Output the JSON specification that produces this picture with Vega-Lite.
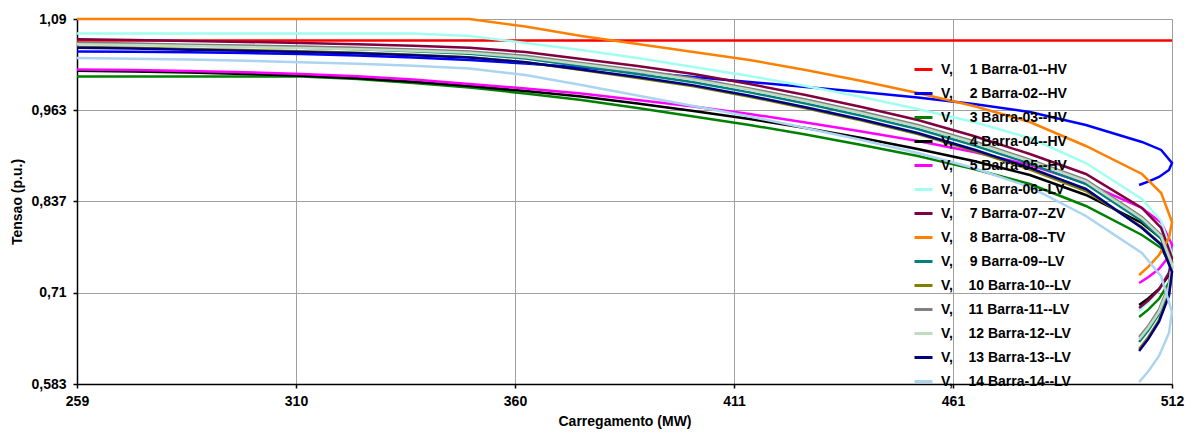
{
  "$schema": "https://vega.github.io/schema/vega-lite/v6.json",
  "width": 1095,
  "height": 365,
  "autosize": {"type": "none"},
  "padding": {"left": 77, "top": 19, "right": 24, "bottom": 51},
  "background": "white",
  "datasets": {
    "names": [
      {"key": "b1", "name": "V,\u00a0\u00a0\u00a0\u00a0\u200a1 Barra-01--HV"},
      {"key": "b2", "name": "V,\u00a0\u00a0\u00a0\u00a0\u200a2 Barra-02--HV"},
      {"key": "b3", "name": "V,\u00a0\u00a0\u00a0\u00a0\u200a3 Barra-03--HV"},
      {"key": "b4", "name": "V,\u00a0\u00a0\u00a0\u00a0\u200a4 Barra-04--HV"},
      {"key": "b5", "name": "V,\u00a0\u00a0\u00a0\u00a0\u200a5 Barra-05--HV"},
      {"key": "b6", "name": "V,\u00a0\u00a0\u00a0\u00a0\u200a6 Barra-06--LV"},
      {"key": "b7", "name": "V,\u00a0\u00a0\u00a0\u00a0\u200a7 Barra-07--ZV"},
      {"key": "b8", "name": "V,\u00a0\u00a0\u00a0\u00a0\u200a8 Barra-08--TV"},
      {"key": "b9", "name": "V,\u00a0\u00a0\u00a0\u00a0\u200a9 Barra-09--LV"},
      {"key": "b10", "name": "V,\u00a0\u00a0\u00a0\u00a010 Barra-10--LV"},
      {"key": "b11", "name": "V,\u00a0\u00a0\u00a0\u00a011 Barra-11--LV"},
      {"key": "b12", "name": "V,\u00a0\u00a0\u00a0\u00a012 Barra-12--LV"},
      {"key": "b13", "name": "V,\u00a0\u00a0\u00a0\u00a013 Barra-13--LV"},
      {"key": "b14", "name": "V,\u00a0\u00a0\u00a0\u00a014 Barra-14--LV"}
    ]
  },
  "data": {
    "values": [
      {"i": 0, "x": 259, "b1": 1.06, "b2": 1.045, "b3": 1.01, "b4": 1.018, "b5": 1.02, "b6": 1.07, "b7": 1.062, "b8": 1.09, "b9": 1.056, "b10": 1.0511, "b11": 1.0569, "b12": 1.0549, "b13": 1.05, "b14": 1.0358},
      {"i": 1, "x": 271.95, "b1": 1.06, "b2": 1.0444, "b3": 1.01, "b4": 1.0171, "b5": 1.0192, "b6": 1.07, "b7": 1.0608, "b8": 1.09, "b9": 1.0547, "b10": 1.0499, "b11": 1.0558, "b12": 1.0538, "b13": 1.0489, "b14": 1.0349},
      {"i": 2, "x": 284.9, "b1": 1.06, "b2": 1.0438, "b3": 1.01, "b4": 1.0157, "b5": 1.0178, "b6": 1.07, "b7": 1.0594, "b8": 1.09, "b9": 1.0532, "b10": 1.0483, "b11": 1.0544, "b12": 1.0524, "b13": 1.0474, "b14": 1.0336},
      {"i": 3, "x": 297.85, "b1": 1.06, "b2": 1.0428, "b3": 1.01, "b4": 1.0136, "b5": 1.016, "b6": 1.07, "b7": 1.0581, "b8": 1.09, "b9": 1.0517, "b10": 1.0468, "b11": 1.0531, "b12": 1.0511, "b13": 1.0458, "b14": 1.0319},
      {"i": 4, "x": 310.8, "b1": 1.06, "b2": 1.0414, "b3": 1.01, "b4": 1.0111, "b5": 1.0136, "b6": 1.07, "b7": 1.0567, "b8": 1.09, "b9": 1.05, "b10": 1.0451, "b11": 1.0518, "b12": 1.0498, "b13": 1.0443, "b14": 1.03},
      {"i": 5, "x": 323.75, "b1": 1.06, "b2": 1.0393, "b3": 1.0067, "b4": 1.0078, "b5": 1.0104, "b6": 1.07, "b7": 1.0549, "b8": 1.09, "b9": 1.0479, "b10": 1.0431, "b11": 1.05, "b12": 1.048, "b13": 1.0424, "b14": 1.0278},
      {"i": 6, "x": 336.7, "b1": 1.06, "b2": 1.0365, "b3": 1.0011, "b4": 1.0029, "b5": 1.006, "b6": 1.07, "b7": 1.0528, "b8": 1.09, "b9": 1.0451, "b10": 1.0403, "b11": 1.0478, "b12": 1.0458, "b13": 1.0397, "b14": 1.0251},
      {"i": 7, "x": 349.65, "b1": 1.06, "b2": 1.0331, "b3": 0.9949, "b4": 0.9969, "b5": 0.9997, "b6": 1.0664, "b7": 1.0502, "b8": 1.09, "b9": 1.0418, "b10": 1.0368, "b11": 1.045, "b12": 1.043, "b13": 1.0365, "b14": 1.0213},
      {"i": 8, "x": 362.6, "b1": 1.06, "b2": 1.0282, "b3": 0.9865, "b4": 0.99, "b5": 0.9935, "b6": 1.0567, "b7": 1.0442, "b8": 1.0796, "b9": 1.0351, "b10": 1.03, "b11": 1.0389, "b12": 1.0369, "b13": 1.03, "b14": 1.0122},
      {"i": 9, "x": 375.55, "b1": 1.06, "b2": 1.0226, "b3": 0.9775, "b4": 0.9824, "b5": 0.9865, "b6": 1.0469, "b7": 1.0344, "b8": 1.0664, "b9": 1.0244, "b10": 1.0192, "b11": 1.029, "b12": 1.027, "b13": 1.0197, "b14": 0.9983},
      {"i": 10, "x": 388.5, "b1": 1.06, "b2": 1.0164, "b3": 0.9664, "b4": 0.9726, "b5": 0.9775, "b6": 1.0358, "b7": 1.0247, "b8": 1.0553, "b9": 1.0136, "b10": 1.0081, "b11": 1.0192, "b12": 1.0172, "b13": 1.0094, "b14": 0.9837},
      {"i": 11, "x": 401.45, "b1": 1.06, "b2": 1.0094, "b3": 0.9546, "b4": 0.9622, "b5": 0.9685, "b6": 1.0233, "b7": 1.0136, "b8": 1.0442, "b9": 1.0022, "b10": 0.9964, "b11": 1.0078, "b12": 1.0058, "b13": 0.9978, "b14": 0.9692},
      {"i": 12, "x": 414.4, "b1": 1.06, "b2": 1.0025, "b3": 0.9428, "b4": 0.9511, "b5": 0.9581, "b6": 1.0108, "b7": 0.9997, "b8": 1.0331, "b9": 0.9881, "b10": 0.9819, "b11": 0.9936, "b12": 0.9916, "b13": 0.9833, "b14": 0.9546},
      {"i": 13, "x": 427.35, "b1": 1.06, "b2": 0.9956, "b3": 0.9296, "b4": 0.9386, "b5": 0.9463, "b6": 0.9969, "b7": 0.9844, "b8": 1.0192, "b9": 0.9725, "b10": 0.9661, "b11": 0.9781, "b12": 0.9761, "b13": 0.9675, "b14": 0.9386},
      {"i": 14, "x": 440.3, "b1": 1.06, "b2": 0.9886, "b3": 0.915, "b4": 0.9247, "b5": 0.9338, "b6": 0.9817, "b7": 0.9678, "b8": 1.0039, "b9": 0.9556, "b10": 0.9489, "b11": 0.9611, "b12": 0.9591, "b13": 0.9503, "b14": 0.9219},
      {"i": 15, "x": 453.25, "b1": 1.06, "b2": 0.981, "b3": 0.8997, "b4": 0.9094, "b5": 0.9206, "b6": 0.965, "b7": 0.9497, "b8": 0.9872, "b9": 0.9372, "b10": 0.9303, "b11": 0.9428, "b12": 0.9408, "b13": 0.9317, "b14": 0.9039},
      {"i": 16, "x": 466.2, "b1": 1.06, "b2": 0.972, "b3": 0.8817, "b4": 0.8928, "b5": 0.9053, "b6": 0.9469, "b7": 0.9275, "b8": 0.9692, "b9": 0.9146, "b10": 0.907, "b11": 0.9201, "b12": 0.9181, "b13": 0.9088, "b14": 0.8831},
      {"i": 17, "x": 479.15, "b1": 1.06, "b2": 0.9608, "b3": 0.8608, "b4": 0.8733, "b5": 0.8872, "b6": 0.9247, "b7": 0.9025, "b8": 0.9469, "b9": 0.8892, "b10": 0.8808, "b11": 0.8947, "b12": 0.8927, "b13": 0.8831, "b14": 0.8567},
      {"i": 18, "x": 492.1, "b1": 1.06, "b2": 0.9428, "b3": 0.8303, "b4": 0.8456, "b5": 0.8622, "b6": 0.89, "b7": 0.8747, "b8": 0.9136, "b9": 0.8608, "b10": 0.8511, "b11": 0.8664, "b12": 0.8644, "b13": 0.8539, "b14": 0.8164},
      {"i": 19, "x": 505.05, "b1": 1.06, "b2": 0.9192, "b3": 0.79, "b4": 0.8067, "b5": 0.8275, "b6": 0.84, "b7": 0.8275, "b8": 0.8747, "b9": 0.8094, "b10": 0.8011, "b11": 0.815, "b12": 0.813, "b13": 0.7997, "b14": 0.765},
      {"i": 20, "x": 509.5, "b1": 1.06, "b2": 0.9081, "b3": 0.7719, "b4": 0.7853, "b5": 0.8072, "b6": 0.8094, "b7": 0.7997, "b8": 0.8483, "b9": 0.7847, "b10": 0.777, "b11": 0.79, "b12": 0.788, "b13": 0.7764, "b14": 0.7326},
      {"i": 21, "x": 512, "b1": 1.06, "b2": 0.89, "b3": 0.7442, "b4": 0.7525, "b5": 0.7761, "b6": 0.7636, "b7": 0.7581, "b8": 0.8081, "b9": 0.747, "b10": 0.74, "b11": 0.7511, "b12": 0.749, "b13": 0.7386, "b14": 0.683},
      {"i": 22, "x": 511.3, "b1": 1.06, "b2": 0.8803, "b3": 0.7237, "b4": 0.7346, "b5": 0.7603, "b6": 0.74, "b7": 0.7372, "b8": 0.7858, "b9": 0.7153, "b10": 0.7075, "b11": 0.7206, "b12": 0.7178, "b13": 0.7057, "b14": 0.6539},
      {"i": 23, "x": 509, "b1": 1.06, "b2": 0.8706, "b3": 0.7013, "b4": 0.7149, "b5": 0.7428, "b6": 0.7136, "b7": 0.7143, "b8": 0.7622, "b9": 0.6804, "b10": 0.6718, "b11": 0.6864, "b12": 0.6831, "b13": 0.6695, "b14": 0.622},
      {"i": 24, "x": 506.5, "b1": 1.06, "b2": 0.864, "b3": 0.6863, "b4": 0.7017, "b5": 0.7312, "b6": 0.6963, "b7": 0.699, "b8": 0.7456, "b9": 0.6572, "b10": 0.6479, "b11": 0.6636, "b12": 0.6608, "b13": 0.6453, "b14": 0.6004},
      {"i": 25, "x": 504.4, "b1": 1.06, "b2": 0.8594, "b3": 0.6761, "b4": 0.6928, "b5": 0.7233, "b6": 0.6844, "b7": 0.6886, "b8": 0.7344, "b9": 0.6414, "b10": 0.6317, "b11": 0.6483, "b12": 0.6449, "b13": 0.6289, "b14": 0.5858}
    ]
  },
  "transform": [
    {"fold": ["b1", "b2", "b3", "b4", "b5", "b6", "b7", "b8", "b9", "b10", "b11", "b12", "b13", "b14"], "as": ["key", "v"]},
    {"lookup": "key", "from": {"data": {"name": "names"}, "key": "key", "fields": ["name"]}}
  ],
  "mark": {"type": "line", "strokeWidth": 2.5},
  "encoding": {
    "x": {
      "field": "x", "type": "quantitative",
      "scale": {"domain": [259, 512], "nice": false, "zero": false},
      "axis": {
        "title": "Carregamento (MW)",
        "values": [259, 309.6, 360.2, 410.8, 461.4, 512],
        "format": ".0f",
        "labelFlush": false,
        "labelOverlap": false,
        "labelPadding": 6,
        "titlePadding": 6
      }
    },
    "y": {
      "field": "v", "type": "quantitative",
      "scale": {"domain": [0.583, 1.09], "nice": false, "zero": false},
      "axis": {
        "title": "Tensao (p.u.)",
        "values": [0.583, 0.71, 0.837, 0.963, 1.09],
        "labelExpr": "replace(format(datum.value, '.3~f'), '.', ',')",
        "labelFlush": false,
        "labelOverlap": false,
        "labelPadding": 7,
        "titlePadding": 6
      }
    },
    "color": {
      "field": "name", "type": "nominal",
      "scale": {
        "domain": [
          "V,\u00a0\u00a0\u00a0\u00a0\u200a1 Barra-01--HV",
          "V,\u00a0\u00a0\u00a0\u00a0\u200a2 Barra-02--HV",
          "V,\u00a0\u00a0\u00a0\u00a0\u200a3 Barra-03--HV",
          "V,\u00a0\u00a0\u00a0\u00a0\u200a4 Barra-04--HV",
          "V,\u00a0\u00a0\u00a0\u00a0\u200a5 Barra-05--HV",
          "V,\u00a0\u00a0\u00a0\u00a0\u200a6 Barra-06--LV",
          "V,\u00a0\u00a0\u00a0\u00a0\u200a7 Barra-07--ZV",
          "V,\u00a0\u00a0\u00a0\u00a0\u200a8 Barra-08--TV",
          "V,\u00a0\u00a0\u00a0\u00a0\u200a9 Barra-09--LV",
          "V,\u00a0\u00a0\u00a0\u00a010 Barra-10--LV",
          "V,\u00a0\u00a0\u00a0\u00a011 Barra-11--LV",
          "V,\u00a0\u00a0\u00a0\u00a012 Barra-12--LV",
          "V,\u00a0\u00a0\u00a0\u00a013 Barra-13--LV",
          "V,\u00a0\u00a0\u00a0\u00a014 Barra-14--LV"
        ],
        "range": ["#ff0000", "#0000ff", "#008000", "#000000", "#ff00ff", "#a0fff0", "#800040", "#ff8000", "#008080", "#808000", "#808080", "#c0dcc0", "#000080", "#aad4f0"]
      },
      "legend": {
        "title": null,
        "orient": "none",
        "legendX": 836,
        "legendY": 40,
        "symbolType": "stroke",
        "symbolSize": 324,
        "symbolStrokeWidth": 3,
        "labelOffset": 7,
        "rowPadding": 6,
        "padding": 0,
        "labelLimit": 0
      }
    },
    "order": {"field": "i", "type": "quantitative"}
  },
  "config": {
    "view": {"stroke": null},
    "font": "Liberation Sans",
    "axis": {
      "labelFont": "Liberation Sans",
      "labelFontSize": 14,
      "labelFontWeight": "bold",
      "labelColor": "#000000",
      "titleFont": "Liberation Sans",
      "titleFontSize": 14,
      "titleFontWeight": "bold",
      "titleColor": "#000000",
      "domainColor": "#000000",
      "domainWidth": 1.5,
      "tickColor": "#000000",
      "tickSize": 4,
      "tickWidth": 1.5,
      "grid": true,
      "gridColor": "#a0a0a0",
      "gridWidth": 1
    },
    "legend": {
      "labelFont": "Liberation Sans",
      "labelFontSize": 14,
      "labelFontWeight": "bold",
      "labelColor": "#000000"
    }
  }
}
